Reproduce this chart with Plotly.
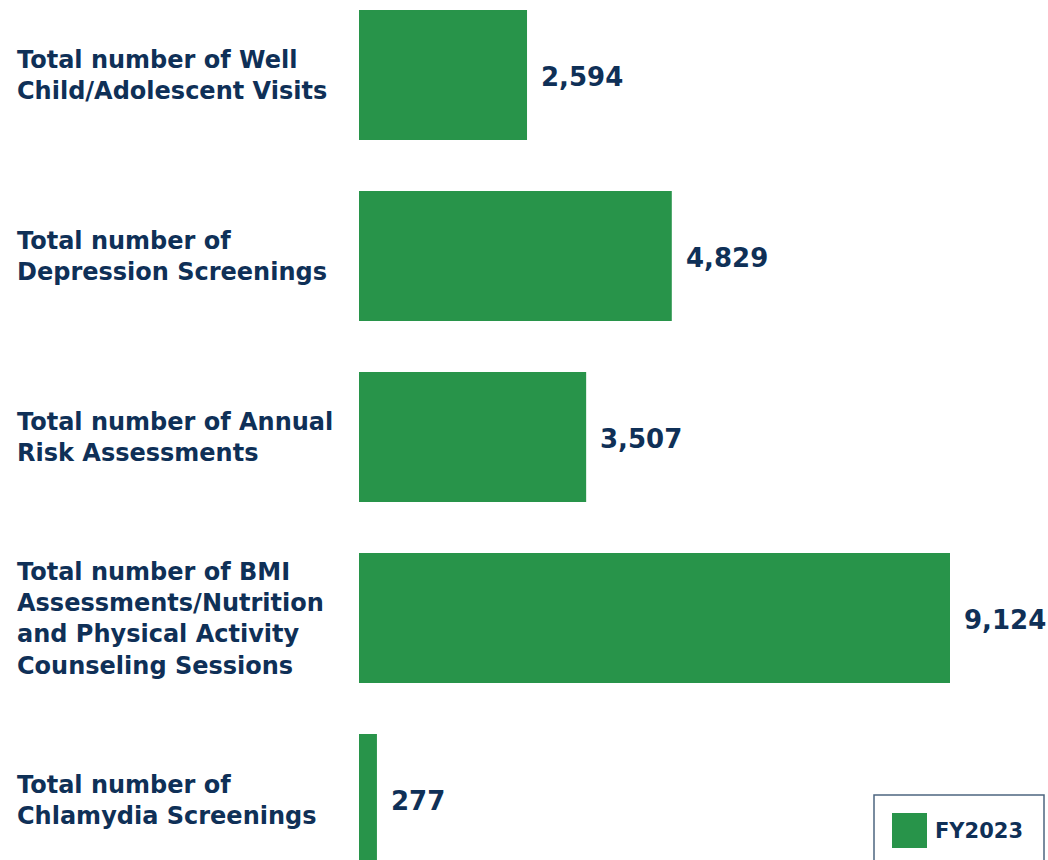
import plotly.graph_objects as go

categories = [
    "Total number of Well<br>Child/Adolescent Visits",
    "Total number of<br>Depression Screenings",
    "Total number of Annual<br>Risk Assessments",
    "Total number of BMI<br>Assessments/Nutrition<br>and Physical Activity<br>Counseling Sessions",
    "Total number of<br>Chlamydia Screenings",
]
values = [2594, 4829, 3507, 9124, 277]
series_name = "FY2023"

GREEN = "#28944a"
NAVY = "#0f3057"
FONT = "DejaVu Sans"

W, H = 1048, 860
ML = 359

fig = go.Figure()
fig.add_trace(go.Bar(
    x=values, y=list(range(len(categories))), orientation="h",
    marker=dict(color=GREEN, line=dict(width=0)),
    name=series_name, showlegend=False, hoverinfo="skip",
))

annotations = []
for i, (c, v) in enumerate(zip(categories, values)):
    annotations.append(dict(
        x=0, y=i, xref="x", yref="y", text=c, showarrow=False,
        xanchor="left", yanchor="middle", align="left", xshift=-344, yshift=-1,
        font=dict(family=FONT, size=24, color=NAVY, weight="bold"),
    ))
    annotations.append(dict(
        x=v, y=i, xref="x", yref="y", text=f"{v:,}", showarrow=False,
        xanchor="left", yanchor="middle", xshift=12, yshift=-2,
        font=dict(family=FONT, size=26, color=NAVY, weight="bold"),
    ))

# paper coords are relative to the plot area (which starts at x=ML)
def px(xp): return (xp - ML) / (W - ML)
def py(yp): return 1 - yp / H

annotations.append(dict(
    x=px(933), y=py(831), xref="paper", yref="paper", text=series_name,
    showarrow=False, xanchor="left", yanchor="middle",
    font=dict(family=FONT, size=21, color=NAVY, weight="bold"),
))

shapes = [
    dict(type="rect", xref="paper", yref="paper",
         x0=px(874), x1=px(1044), y0=py(870), y1=py(795),
         line=dict(color="#4d6580", width=1.5), fillcolor="white", layer="above"),
    dict(type="rect", xref="paper", yref="paper",
         x0=px(892), x1=px(927), y0=py(848), y1=py(813),
         line=dict(width=0), fillcolor=GREEN, layer="above"),
]

fig.update_layout(
    width=W, height=H,
    margin=dict(l=ML, r=0, t=0, b=0, pad=0),
    paper_bgcolor="white", plot_bgcolor="white",
    bargap=0.282,
    xaxis=dict(range=[0, 10637], visible=False, fixedrange=True),
    yaxis=dict(range=[4.337, -0.414], visible=False, fixedrange=True),
    annotations=annotations, shapes=shapes,
    showlegend=False,
)

fig.write_html(
    "out.html",
    config={"displayModeBar": False, "staticPlot": True},
    post_script="document.body.style.margin='0';document.body.style.overflow='hidden';",
)
